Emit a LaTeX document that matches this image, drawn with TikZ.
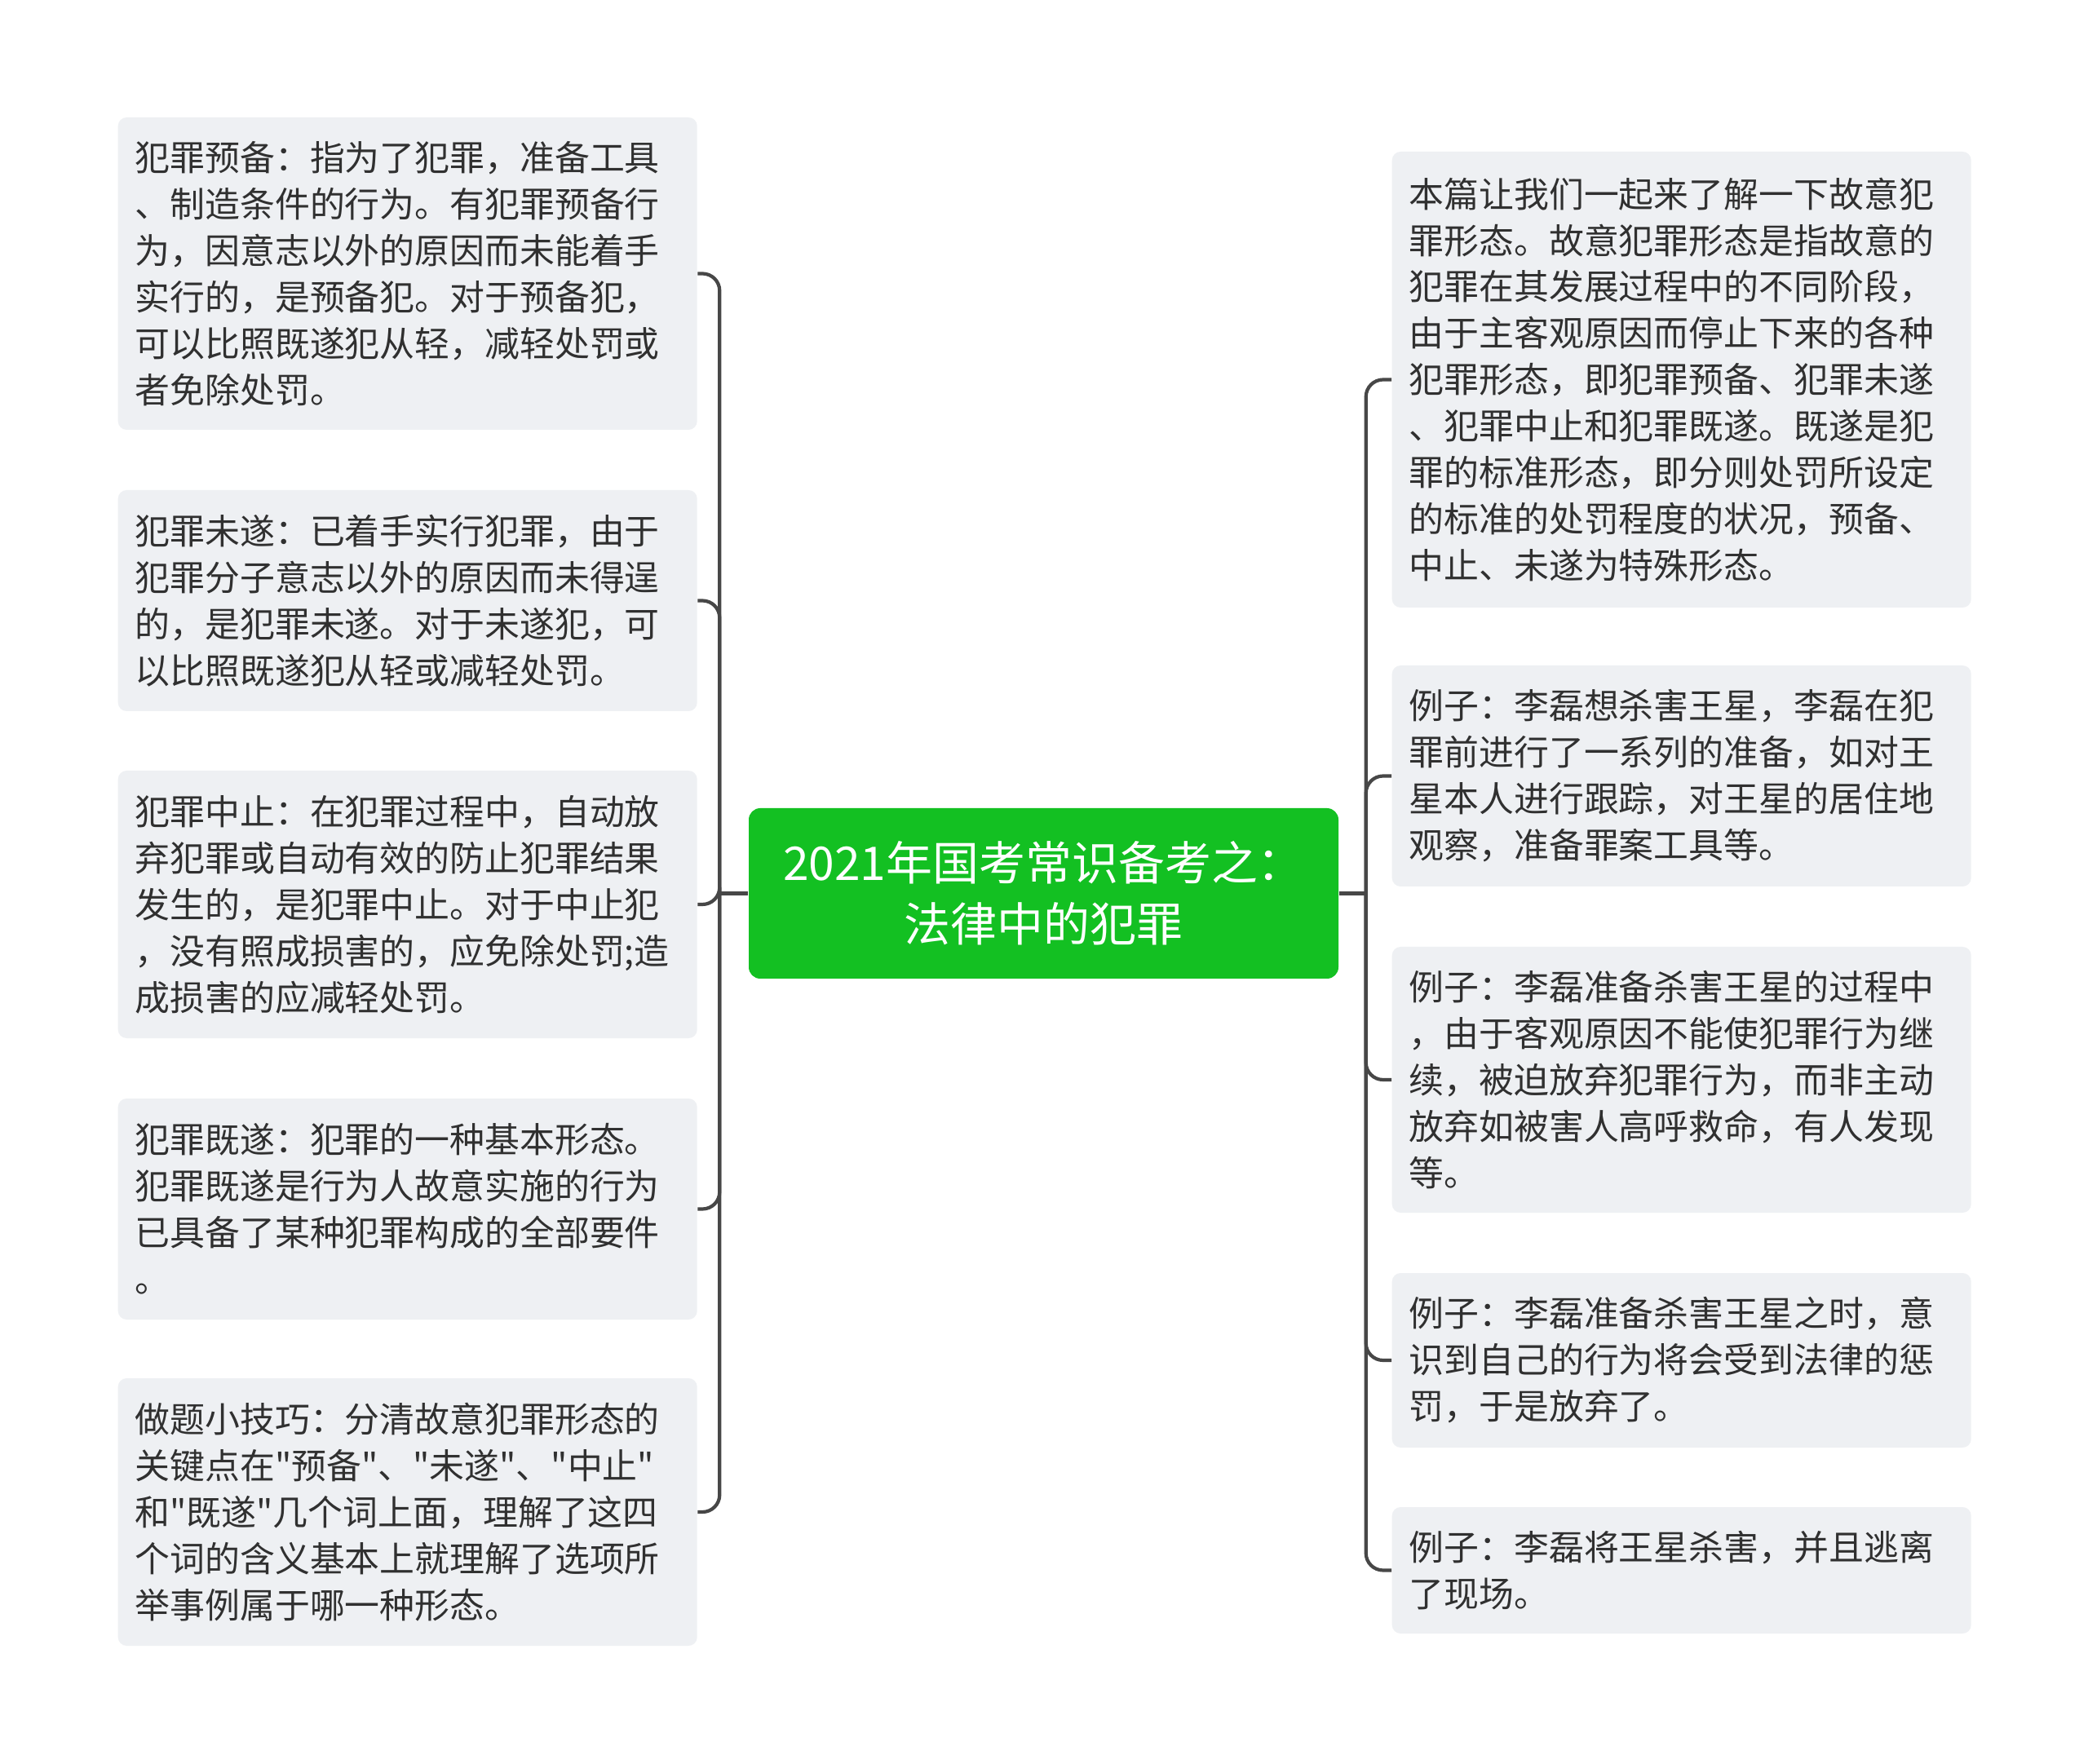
\documentclass[tikz,border=0pt]{standalone}
\usepackage{fontspec}
\setmainfont{Noto Sans CJK SC}[Ligatures=TeXOff]
\usepackage{xcolor}
\usepackage{tikz}
\usetikzlibrary{positioning,calc}
\definecolor{verde}{HTML}{13C022}
\definecolor{grisclaro}{HTML}{EEF0F3}
\definecolor{gris}{HTML}{474747}
\definecolor{texto}{HTML}{303030}
\tikzset{
  caja/.style={fill=grisclaro,rounded corners=3pt,text=texto,align=left,anchor=west,text width=6.68cm,inner xsep=0.21cm,inner ysep=0pt,font=\fontsize{12.2pt}{16.2pt}\selectfont},
  cajaverde/.style={fill=verde,rounded corners=4pt,text=white,align=center,minimum width=7.23cm,minimum height=2.09cm,font=\fontsize{16.2pt}{21.4pt}\selectfont},
  rama/.style={draw=gris,line width=1.2pt,rounded corners=6pt},
}

\begin{document}
\begin{tikzpicture}
  \path[use as bounding box,fill=white] (0,0) rectangle (25.6,-21.63);
  \node[cajaverde] (raiz) at (12.795,-10.955) {2021年国考常识备考之：\\法律中的犯罪};
  % izquierda
  \node[caja,minimum height=3.83cm] (prep) at (1.44,-3.355) {犯罪预备：指为了犯罪，准备工具\\、制造条件的行为。有犯罪预备行\\为，因意志以外的原因而未能着手\\实行的，是预备犯。对于预备犯，\\可以比照既遂犯从轻，减轻处罚或\\者免除处罚。};
  \node[caja,minimum height=2.71cm] (tent) at (1.44,-7.365) {犯罪未遂：已着手实行犯罪，由于\\犯罪分子意志以外的原因而未得逞\\的，是犯罪未遂。对于未遂犯，可\\以比照既遂犯从轻或减轻处罚。};
  \node[caja,minimum height=3.28cm] (desist) at (1.44,-11.09) {犯罪中止：在犯罪过程中，自动放\\弃犯罪或自动有效的防止犯罪结果\\发生的，是犯罪中止。对于中止犯\\，没有照成损害的，应免除处罚;造\\成损害的应减轻处罚。};
  \node[caja,minimum height=2.71cm] (consum) at (1.44,-14.825) {犯罪既遂：犯罪的一种基本形态。\\犯罪既遂是行为人故意实施的行为\\已具备了某种犯罪构成的全部要件\\。};
  \node[caja,minimum height=3.28cm] (truco) at (1.44,-18.54) {做题小技巧：分清故意犯罪形态的\\关键点在"预备"、"未遂"、"中止"\\和"既遂"几个词上面，理解了这四\\个词的含义基本上就理解了选项所\\举事例属于哪一种形态。};
  % derecha
  \node[caja,minimum height=5.59cm] (intro) at (17.06,-4.655) {本篇让我们一起来了解一下故意犯\\罪形态。故意犯罪形态是指故意的\\犯罪在其发展过程中的不同阶段，\\由于主客观原因而停止下来的各种\\犯罪形态，即犯罪预备、犯罪未遂\\、犯罪中止和犯罪既遂。既遂是犯\\罪的标准形态，即分则处罚所设定\\的标准的处罚程度的状况，预备、\\中止、未遂为特殊形态。};
  \node[caja,minimum height=2.71cm] (ej1) at (17.06,-9.515) {例子：李磊想杀害王星，李磊在犯\\罪前进行了一系列的准备，如对王\\星本人进行跟踪，对王星的居住地\\观察，准备罪案工具等。};
  \node[caja,minimum height=3.26cm] (ej2) at (17.06,-13.24) {例子：李磊准备杀害王星的过程中\\，由于客观原因不能使犯罪行为继\\续，被迫放弃犯罪行为，而非主动\\放弃如被害人高呼救命，有人发现\\等。};
  \node[caja,minimum height=2.14cm] (ej3) at (17.06,-16.68) {例子：李磊准备杀害王星之时，意\\识到自己的行为将会受到法律的惩\\罚，于是放弃了。};
  \node[caja,minimum height=1.55cm] (ej4) at (17.06,-19.255) {例子：李磊将王星杀害，并且逃离\\了现场。};
  % conectores
  \coordinate (troncoi) at ($(raiz.west)+(-0.35,0)$);
  \coordinate (troncod) at ($(raiz.east)+(0.33,0)$);
  \draw[rama] (raiz.west) -- (troncoi);
  \draw[rama] (raiz.east) -- (troncod);
  \foreach \n in {prep,tent,desist,consum,truco}
    \draw[rama] (troncoi) |- (\n.east);
  \foreach \n in {intro,ej1,ej2,ej3,ej4}
    \draw[rama] (troncod) |- (\n.west);
\end{tikzpicture}
\end{document}
